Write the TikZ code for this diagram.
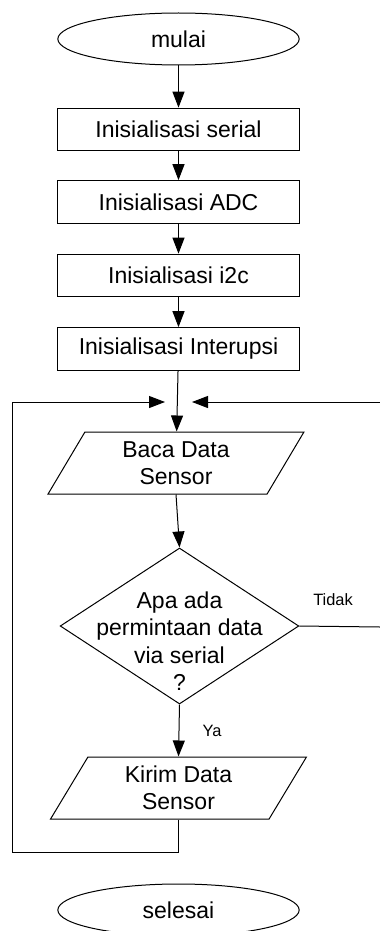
\documentclass[tikz,border=0pt]{standalone}
\usepackage{fontspec}
\setmainfont{Liberation Sans}
\usetikzlibrary{shapes.geometric,arrows.meta}

\tikzset{
	alur/.style={-{Triangle[length=12pt,width=9pt]}},
	terminal/.style={draw,ellipse,minimum width=181pt,minimum height=39pt,inner sep=0pt},
	proses/.style={draw,rectangle,minimum width=181pt,minimum height=32pt,inner sep=0pt},
	masukan/.style={draw,trapezium,trapezium left angle=63.4,trapezium right angle=116.6,
		trapezium stretches=true,minimum width=192pt,minimum height=46.5pt,inner sep=0pt,align=center},
	keputusan/.style={draw,diamond,minimum width=179pt,minimum height=117pt,inner sep=0pt},
	label/.style={font=\fontsize{12.3}{14}\selectfont}
}

\begin{document}
\begin{tikzpicture}[x=0.75pt,y=-0.75pt,line width=0.75pt,font=\fontsize{17.25}{20.5}\selectfont]
		\useasboundingbox (0,0) rectangle (379,931);
		\node[terminal] (mulai) at (178.5, 39) {mulai};
		\node[proses] (serial) at (178.5, 129.5) {Inisialisasi serial};
		\node[proses] (adc) at (178.5, 202) {Inisialisasi ADC};
		\node[proses] (iic) at (178.5, 275.5) {Inisialisasi i2c};
		\node[proses] (interupsi) at (178.5, 349) {Inisialisasi Interupsi};
		\node[masukan] (baca) at (176, 463) {Baca Data\\Sensor};
		\node[keputusan] (tanya) at (179.5, 626) {};
		\node[align=center,inner sep=0pt] (tanyaTeks) at (179.5, 641) {Apa ada\\permintaan data\\via serial\\?};
		\node[masukan] (kirim) at (178.5, 788) {Kirim Data\\Sensor};
		\node[terminal] (selesai) at (178.5, 910) {selesai};
		\coordinate (gabungKiri) at (165, 402);
		\coordinate (gabungKanan) at (192, 402);
		\coordinate (kananBawah) at (380, 627);
		\coordinate (kananAtas) at (380, 402);
		\coordinate (kiriBawah) at (12, 852);
		\coordinate (kiriAtas) at (12, 402);
		\draw[alur] (mulai) -- (serial);
		\draw[alur] (serial) -- (adc);
		\draw[alur] (adc) -- (iic);
		\draw[alur] (iic) -- (interupsi);
		\draw[alur] (interupsi) -- (baca);
		\draw[alur] (baca.south) -- (tanya.north);
		\draw[alur] (tanya.south) -- node[label,right,xshift=14pt] (ya) {Ya} (kirim.north);
		% jalur Tidak keluar di tepi kanan
		\draw (tanya.east) -- (kananBawah);
		\draw[alur] (kananAtas) -- (gabungKanan);
		\draw[alur] (kirim.south) |- (kiriBawah) -- (kiriAtas) -- (gabungKiri);
		\node[label] (tidak) at (333, 600) {Tidak};
	\end{tikzpicture}
\end{document}
